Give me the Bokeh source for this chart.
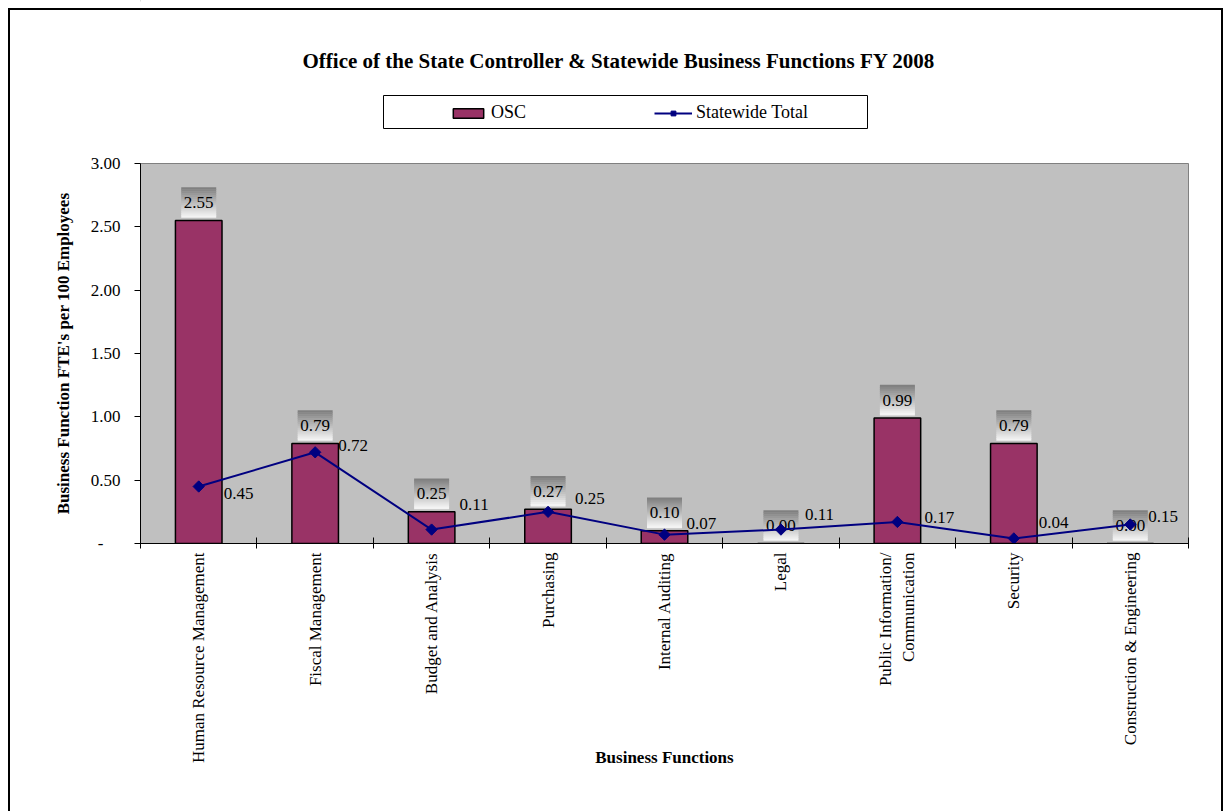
import math
from bokeh.plotting import figure
from bokeh.layouts import column
from bokeh.models import (FactorRange, Range1d, LinearAxis, CategoricalAxis, FixedTicker,
                          NumeralTickFormatter, Legend, LegendItem, ColumnDataSource,
                          CustomLabelingPolicy)
from bokeh.core.properties import value
from bokeh.embed import file_html
from bokeh.resources import INLINE

# ---------------- data ----------------
categories = ["Human Resource Management", "Fiscal Management", "Budget and Analysis",
              "Purchasing", "Internal Auditing", "Legal",
              "Public Information/\nCommunication", "Security", "Construction & Engineering"]
osc = [2.55, 0.79, 0.25, 0.27, 0.10, 0.00, 0.99, 0.79, 0.00]
statewide = [0.45, 0.72, 0.11, 0.25, 0.07, 0.11, 0.17, 0.04, 0.15]
y_ticks = [0.0, 0.5, 1.0, 1.5, 2.0, 2.5, 3.0]

title_text = "Office of the State Controller & Statewide Business Functions FY 2008"
y_title = "Business Function FTE's per 100 Employees"
x_title = "Business Functions"

# label placement (pixels) for the Statewide value labels
sw_dx = [25, 23, 28, 27, 22, 24, 27, 25, 18]
sw_dy = [7, -7, -25, -13, -11, -15, -4, -16, -8]

# ---------------- layout ----------------
W, H = 1223, 811
HH = 140                       # header height (title + legend)
FL, FT, FW, FH = 140, 163, 1048, 380
YMAX = y_ticks[-1]
PPY = FH / YMAX
FONT = "Liberation Serif"
NAVY = "#000080"
BAR = "#993366"

# ---------------- header (title + legend) ----------------
# header frame is aligned with the main frame; coordinates are page pixels
h = figure(width=W, height=HH, x_range=Range1d(FL, FL + FW), y_range=Range1d(HH, 0),
           output_backend="svg", toolbar_location=None, min_border=0,
           min_border_left=FL, min_border_right=W - FL - FW,
           x_axis_location=None, y_axis_location=None)
h.outline_line_color = None
h.background_fill_color = None
h.border_fill_color = None
h.grid.visible = False

h.text(x=[618.5], y=[60], text=[title_text], text_align="center", text_baseline="middle",
       text_font=value(FONT), text_font_style="bold", text_font_size="21px",
       text_color="black")
h.quad(left=[383], right=[867], top=[95], bottom=[128], fill_color="white",
       line_color="black", line_width=1)
# legend proxies (kept outside the visible range)
lb = h.vbar(x=[-500], top=[-500], width=1, fill_color=BAR, line_color="black", line_width=1.5)
ll = h.line(x=[-500, -400], y=[-500, -500], line_color=NAVY, line_width=2)
ls = h.scatter(x=[-500], y=[-500], marker="square", angle=math.pi / 4, size=8,
               fill_color=NAVY, line_color=NAVY)
legend = Legend(items=[LegendItem(label="OSC", renderers=[lb]),
                       LegendItem(label="Statewide Total", renderers=[ll, ls])],
                orientation="horizontal", location=(449 - FL, HH - 123),
                padding=0, margin=0, spacing=128, glyph_width=38, glyph_height=12,
                label_height=12, label_standoff=4, label_text_font=FONT,
                label_text_font_size="18px", label_text_color="black",
                border_line_color=None, background_fill_alpha=0)
h.add_layout(legend)

# ---------------- main chart ----------------
p = figure(x_range=FactorRange(*categories), y_range=Range1d(0, YMAX),
           width=W, height=H - HH, output_backend="svg", toolbar_location=None,
           x_axis_location=None, min_border_left=FL, min_border_top=FT - HH,
           min_border_right=W - FL - FW, min_border_bottom=H - FT - FH)
p.background_fill_color = "#C0C0C0"
p.border_fill_color = None
p.outline_line_color = "#808080"
p.outline_line_width = 1
p.grid.grid_line_color = None

# y axis
ya = p.yaxis[0]
ya.ticker = FixedTicker(ticks=y_ticks)
ya.formatter = NumeralTickFormatter(format="0.00")
ya.major_label_overrides = {0: "-\u2007\u2007"}
ya.major_tick_out = 6
ya.major_tick_in = 0
ya.minor_tick_line_color = None
ya.axis_line_color = "black"
ya.major_tick_line_color = "black"
ya.major_label_standoff = 14
ya.major_label_text_font = FONT
ya.major_label_text_font_size = "17px"
ya.major_label_text_color = "black"
ya.axis_label = y_title
ya.axis_label_standoff = 15
ya.axis_label_text_font = FONT
ya.axis_label_text_font_style = "bold"
ya.axis_label_text_font_size = "17px"
ya.axis_label_text_color = "black"

# x boundary ticks (category boundaries), no labels
xb = LinearAxis(ticker=FixedTicker(ticks=list(range(len(categories) + 1))))
xb.major_label_policy = CustomLabelingPolicy(
    code="for (const i of Array.from(indices)) indices.unset(i); return indices")
xb.major_label_standoff = 0
xb.major_tick_in = 6
xb.major_tick_out = 5
xb.minor_tick_line_color = None
xb.axis_line_color = "black"
xb.major_tick_line_color = "black"
p.add_layout(xb, "below")

# category axis
xc = CategoricalAxis()
xc.major_tick_line_color = None
xc.major_tick_out = 0
xc.major_tick_in = 0
xc.axis_line_color = None
xc.major_label_standoff = -7
xc.major_label_orientation = math.pi / 2
xc.major_label_text_font = FONT
xc.major_label_text_font_size = "17px"
xc.major_label_text_color = "black"
xc.axis_label = x_title
xc.axis_label_standoff = -18
xc.axis_label_text_font = FONT
xc.axis_label_text_font_style = "bold"
xc.axis_label_text_font_size = "17px"
xc.axis_label_text_color = "black"
p.add_layout(xc, "below")

# bars
bars = p.vbar(x=categories, top=osc, width=0.40, fill_color=BAR,
              line_color="black", line_width=1.5)

# gradient label boxes over bars
NB, BOX_W, BOX_H, GAP = 15, 35, 30, 3
bx, by, bc = [], [], []
for c, v in zip(categories, osc):
    for i in range(NB):
        t = i / (NB - 1)
        g = int(round(128 + (243 - 128) * t))
        bx.append(c)
        by.append(v + (GAP + BOX_H - (i + 0.5) * BOX_H / NB) / PPY)
        bc.append("#%02x%02x%02x" % (g, g, g))
p.rect(x=bx, y=by, width=BOX_W, width_units="screen", height=BOX_H / NB + 0.6,
       height_units="screen", fill_color=bc, line_color=None)
p.text(x=categories, y=[v + (GAP + BOX_H / 2) / PPY for v in osc],
       text=[f"{v:.2f}" for v in osc], text_align="center", text_baseline="middle",
       text_font=value(FONT), text_font_size="17px", text_color="black")

# statewide line
p.line(x=categories, y=statewide, line_color=NAVY, line_width=2)
p.scatter(x=categories, y=statewide, marker="square", angle=math.pi / 4, size=8,
          fill_color=NAVY, line_color=NAVY)
src = ColumnDataSource(dict(x=categories, y=statewide, t=[f"{v:.2f}" for v in statewide],
                            xo=sw_dx, yo=sw_dy))
p.text(x="x", y="y", text="t", x_offset="xo", y_offset="yo", source=src,
       text_align="left", text_baseline="middle", text_font=value(FONT),
       text_font_size="17px", text_color="black")

layout = column(h, p, spacing=0)
layout.styles = {
    "background-color": "white",
    "box-shadow": "inset 8px 8px 0 0 white, inset 10px 10px 0 0 black, inset -2px 0 0 0 black",
}

open("out.html", "w").write(file_html(layout, INLINE))
